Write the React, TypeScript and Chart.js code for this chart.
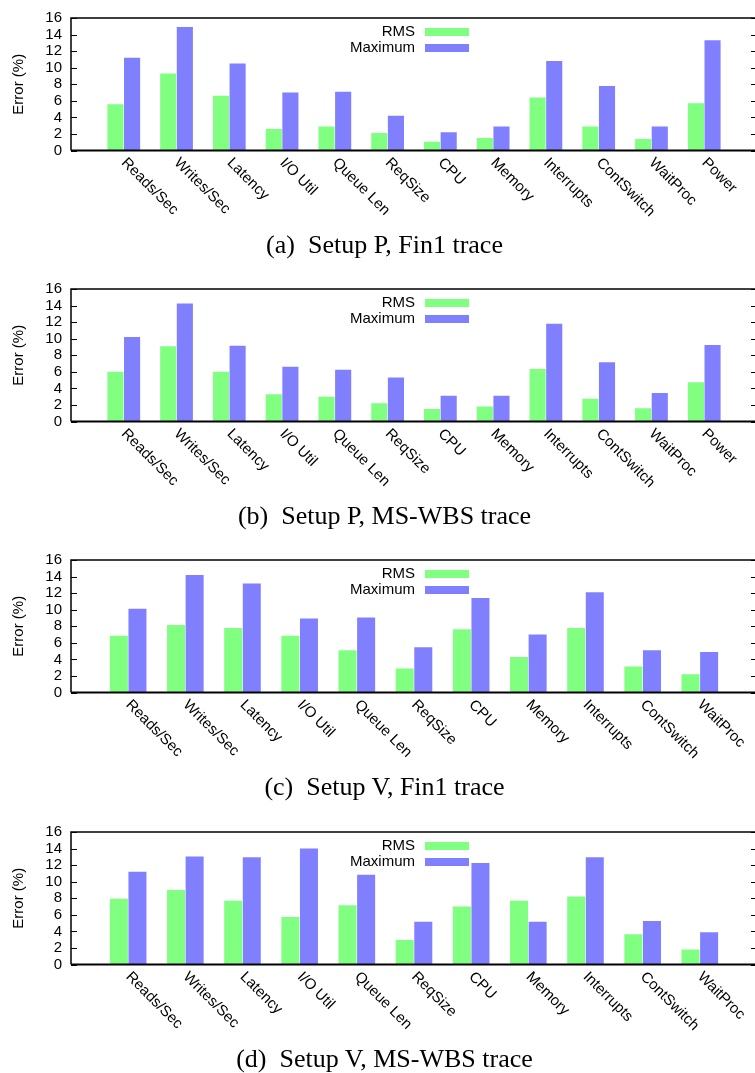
import React, { useEffect, useRef } from 'react';
import { Chart, registerables } from 'chart.js';

Chart.register(...registerables);

// ---------- data ----------
const categoriesP = ['Reads/Sec', 'Writes/Sec', 'Latency', 'I/O Util', 'Queue Len', 'ReqSize', 'CPU', 'Memory', 'Interrupts', 'ContSwitch', 'WaitProc', 'Power'];
const categoriesV = ['Reads/Sec', 'Writes/Sec', 'Latency', 'I/O Util', 'Queue Len', 'ReqSize', 'CPU', 'Memory', 'Interrupts', 'ContSwitch', 'WaitProc'];

const rmsA = [5.6, 9.3, 6.6, 2.6, 2.9, 2.1, 1.05, 1.5, 6.4, 2.9, 1.4, 5.7];
const maxA = [11.2, 14.9, 10.5, 7.0, 7.1, 4.2, 2.2, 2.9, 10.8, 7.8, 2.9, 13.3];

const rmsB = [6.0, 9.1, 6.0, 3.3, 3.0, 2.2, 1.5, 1.8, 6.35, 2.75, 1.6, 4.75];
const maxB = [10.2, 14.25, 9.15, 6.6, 6.25, 5.3, 3.1, 3.1, 11.8, 7.15, 3.45, 9.25];

const rmsC = [6.85, 8.15, 7.8, 6.85, 5.1, 2.9, 7.65, 4.3, 7.8, 3.15, 2.2];
const maxC = [10.1, 14.2, 13.15, 8.95, 9.05, 5.45, 11.4, 7.0, 12.1, 5.1, 4.9];

const rmsD = [7.95, 9.0, 7.7, 5.75, 7.15, 2.95, 7.0, 7.7, 8.2, 3.65, 1.8];
const maxD = [11.2, 13.05, 12.95, 14.0, 10.85, 5.15, 12.25, 5.15, 12.95, 5.25, 3.9];

const yTicks = [0, 2, 4, 6, 8, 10, 12, 14, 16];
const seriesNames = ['RMS', 'Maximum'];
const seriesColors = ['#80ff80', '#8080ff'];
const yAxisTitle = 'Error (%)';

const captionTags = ['(a)', '(b)', '(c)', '(d)'];
const captionTexts = ['Setup P, Fin1 trace', 'Setup P, MS-WBS trace', 'Setup V, Fin1 trace', 'Setup V, MS-WBS trace'];

// ---------- styles ----------
const SANS = '"Liberation Sans", Arial, Helvetica, sans-serif';
const SERIF = '"Liberation Serif", "Times New Roman", Times, serif';
const CANVAS_W = 757;
const CANVAS_H = 271;
const PLOT_TOP = 13;
const PLOT_BOTTOM = 150.5;
const PLOT_LEFT = 71;
const panelTops = [0, 271, 542, 814];

const framePlugin = {
  id: 'gnuFrame',
  afterDraw(chart: any) {
    const { ctx, chartArea, scales } = chart;
    const { left, right, top, bottom } = chartArea;
    const xs = scales.x;
    const ys = scales.y;
    ctx.save();
    ctx.strokeStyle = '#000';
    // border
    ctx.lineWidth = 1.5;
    ctx.beginPath();
    ctx.moveTo(left, bottom);
    ctx.lineTo(left, top);
    ctx.lineTo(right, top);
    ctx.lineTo(right, bottom);
    ctx.stroke();
    ctx.lineWidth = 2;
    ctx.beginPath();
    ctx.moveTo(left, bottom);
    ctx.lineTo(right, bottom);
    ctx.stroke();
    // inward y ticks on both sides
    ctx.lineWidth = 1;
    for (const v of yTicks) {
      const py = Math.round(ys.getPixelForValue(v)) + 0.5;
      ctx.beginPath();
      ctx.moveTo(left, py);
      ctx.lineTo(left + 6, py);
      ctx.moveTo(right, py);
      ctx.lineTo(right - 6, py);
      ctx.stroke();
    }
    // rotated category labels
    ctx.fillStyle = '#000';
    ctx.font = `15px ${SANS}`;
    ctx.textAlign = 'left';
    ctx.textBaseline = 'middle';
    const labels: string[] = chart.data.labels;
    labels.forEach((lab, i) => {
      if (!lab) return;
      const px = xs.getPixelForValue(i);
      ctx.save();
      ctx.translate(px, bottom + 10);
      ctx.rotate(Math.PI / 4);
      ctx.fillText(lab, 0, 0);
      ctx.restore();
    });
    // legend (text right-aligned, sample to the right)
    ctx.textAlign = 'right';
    chart.data.datasets.forEach((ds: any, i: number) => {
      const cy = top + 14 + i * 16;
      ctx.fillStyle = '#000';
      ctx.fillText(ds.label, 415, cy);
      ctx.fillStyle = ds.backgroundColor;
      ctx.fillRect(425, cy - 4, 44, 8);
    });
    // y axis title
    ctx.save();
    ctx.translate(18.5, (top + bottom) / 2);
    ctx.rotate(-Math.PI / 2);
    ctx.textAlign = 'center';
    ctx.fillStyle = '#000';
    ctx.fillText(yAxisTitle, 0, 0);
    ctx.restore();
    ctx.restore();
  },
};

type PanelProps = {
  top: number;
  cats: string[];
  rms: number[];
  max: number[];
  catPct: number;
  tag: string;
  caption: string;
};

function Panel({ top, cats, rms, max, catPct, tag, caption }: PanelProps) {
  const ref = useRef<HTMLCanvasElement | null>(null);
  useEffect(() => {
    if (!ref.current) return;
    const labels = ['', ...cats, ''];
    const series = [rms, max];
    const chart = new Chart(ref.current, {
      type: 'bar',
      data: {
        labels,
        datasets: series.map((vals, i) => ({
          label: seriesNames[i],
          data: [null, ...vals, null],
          backgroundColor: seriesColors[i],
          borderWidth: 0,
          categoryPercentage: catPct,
          barPercentage: 0.97,
        })),
      },
      options: {
        responsive: false,
        animation: false,
        devicePixelRatio: 1,
        layout: { padding: { top: PLOT_TOP, bottom: CANVAS_H - PLOT_BOTTOM, left: 0, right: 0 } },
        plugins: { legend: { display: false }, tooltip: { enabled: false }, title: { display: false } },
        scales: {
          x: {
            type: 'category',
            display: false,
            offset: false,
            grid: { display: false },
          },
          y: {
            min: 0,
            max: 16,
            position: 'left',
            grid: { display: false, drawTicks: false },
            border: { display: false },
            afterBuildTicks: (scale: any) => {
              scale.ticks = yTicks.map((v) => ({ value: v }));
            },
            ticks: {
              autoSkip: false,
              padding: 9,
              color: '#000',
              font: { family: SANS, size: 15 },
            },
            afterFit: (scale: any) => {
              scale.width = PLOT_LEFT;
            },
          },
        },
      },
      plugins: [framePlugin],
    } as any);
    return () => chart.destroy();
  }, [cats, rms, max, catPct]);

  return (
    <div style={{ position: 'absolute', left: 0, top, width: CANVAS_W, height: CANVAS_H }}>
      <canvas ref={ref} width={CANVAS_W} height={CANVAS_H} style={{ display: 'block' }} />
      <div
        style={{
          position: 'absolute',
          left: 0,
          width: 769,
          top: 232,
          textAlign: 'center',
          fontFamily: SERIF,
          fontSize: 26,
          lineHeight: '26px',
          color: '#000',
          whiteSpace: 'pre',
        }}
      >
        {tag + '\u00a0\u00a0' + caption}
      </div>
    </div>
  );
}

export default function App() {
  const panels = [
    { cats: categoriesP, rms: rmsA, max: maxA, catPct: 0.63 },
    { cats: categoriesP, rms: rmsB, max: maxB, catPct: 0.63 },
    { cats: categoriesV, rms: rmsC, max: maxC, catPct: 0.65 },
    { cats: categoriesV, rms: rmsD, max: maxD, catPct: 0.65 },
  ];
  return (
    <div style={{ position: 'absolute', left: 0, top: 0, width: 755, height: 1073, overflow: 'hidden', background: '#fff' }}>
      {panels.map((p, i) => (
        <Panel
          key={i}
          top={panelTops[i]}
          cats={p.cats}
          rms={p.rms}
          max={p.max}
          catPct={p.catPct}
          tag={captionTags[i]}
          caption={captionTexts[i]}
        />
      ))}
    </div>
  );
}
